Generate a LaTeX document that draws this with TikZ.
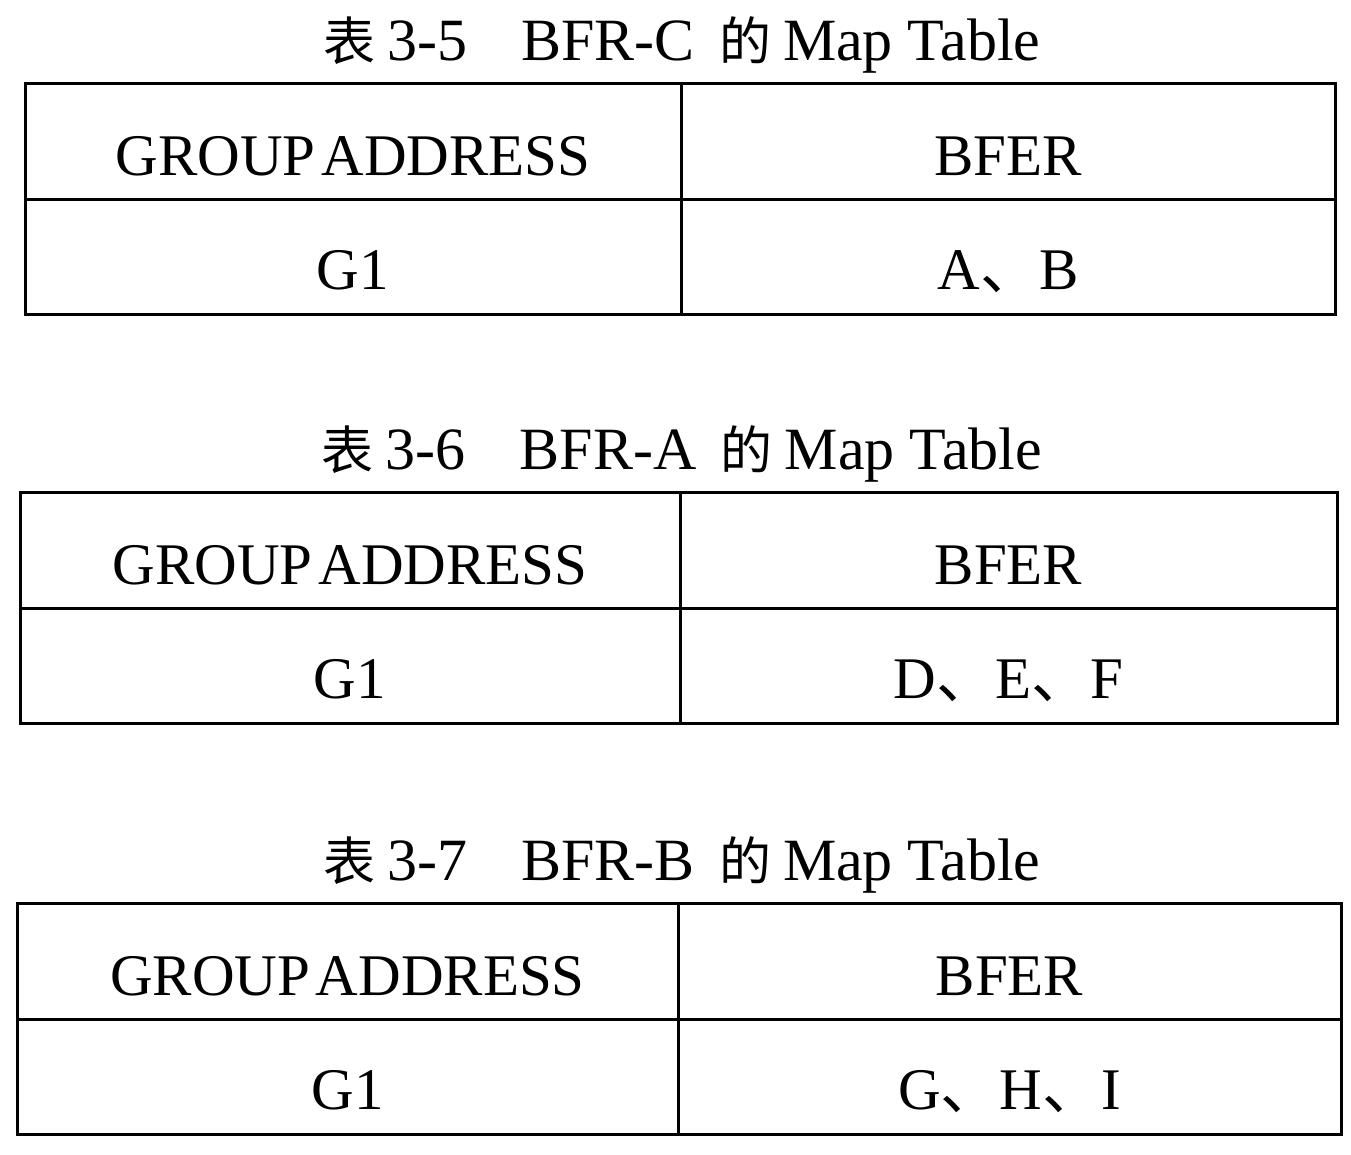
\documentclass[tikz,border=0pt]{standalone}
\usepackage{fontspec}
\setmainfont{Liberation Serif}
\newfontfamily\cjk{Noto Sans CJK SC}
\newcommand\tcjk[1]{{\fontsize{52}{56}\selectfont\cjk #1}}
\tikzset{
  gridline/.style={line width=3pt, line cap=rect},
  cell/.style={anchor=base, inner sep=0pt, font=\fontsize{59}{62}\selectfont},
  ttl/.style={anchor=base, inner sep=0pt, font=\fontsize{60}{64}\selectfont}
}
% #1 name, #2 left, #3 right, #4 divider, #5 top, #6 title, #7 right text
\newcommand\mtab[7]{%
  \coordinate (#1tl) at (#2,#5);
  \coordinate (#1br) at (#3,#5+231);
  \coordinate (#1ml) at (#2,#5+116);
  \coordinate (#1mr) at (#3,#5+116);
  \coordinate (#1dt) at (#4,#5);
  \coordinate (#1db) at (#4,#5+231);
  \draw[gridline] (#1tl) rectangle (#1br);
  \draw[gridline] (#1ml) -- (#1mr);
  \draw[gridline] (#1dt) -- (#1db);
  \node[ttl] (#1title) at (682,#5-23) {#6};
  \node[cell] (#1ga) at ({(#2+#4)/2},#5+92) {GROUP\hspace{0.1em}ADDRESS};
  \node[cell] (#1bf) at ({(#4+#3)/2},#5+92) {BFER};
  \node[cell] (#1g) at ({(#2+#4)/2},#5+206) {G1};
  \node[cell] (#1v) at ({(#4+#3)/2},#5+206) {#7};
}
\begin{document}
\begin{tikzpicture}[x=1pt,y=-1pt]
\useasboundingbox (0,0) rectangle (1351,1155);
\mtab{A}{25}{1335}{681}{84}{\tcjk{表}\hspace{0.2em}3-5\hspace{0.9em}BFR-C\hspace{0.4em}\tcjk{的}\hspace{0.2em}Map Table}{A{\cjk 、}B}
\mtab{B}{20}{1337}{680}{492}{\tcjk{表}\hspace{0.2em}3-6\hspace{0.9em}BFR-A\hspace{0.4em}\tcjk{的}\hspace{0.2em}Map Table}{D{\cjk 、}E{\cjk 、}F}
\mtab{C}{17}{1341}{678}{903}{\tcjk{表}\hspace{0.2em}3-7\hspace{0.9em}BFR-B\hspace{0.4em}\tcjk{的}\hspace{0.2em}Map Table}{G{\cjk 、}H{\cjk 、}I}
\end{tikzpicture}
\end{document}
